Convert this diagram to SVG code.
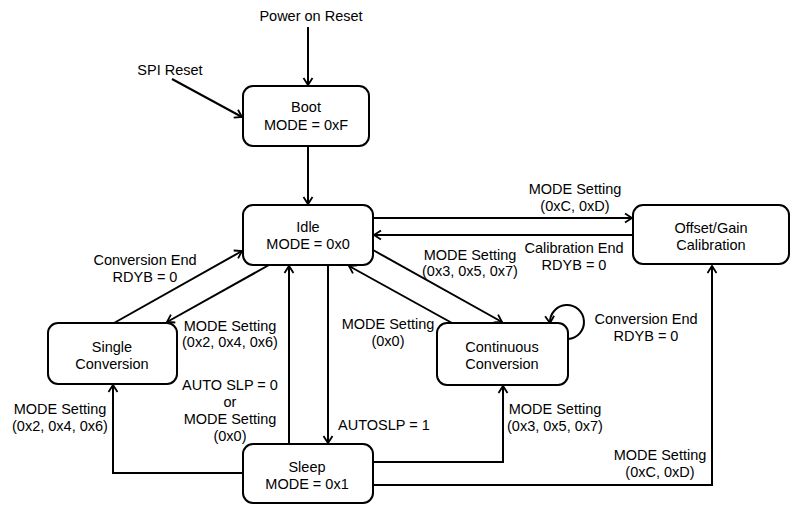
<svg xmlns="http://www.w3.org/2000/svg" width="797" height="505" viewBox="0 0 797 505">
<style>
text{font-family:"Liberation Sans",Arial,sans-serif;font-size:14.5px;fill:#000;text-anchor:middle}
.box{fill:#fff;stroke:#000;stroke-width:2}
.c{fill:none;stroke:#000;stroke-width:2}
</style>
<defs>
<marker id="ah" markerUnits="userSpaceOnUse" markerWidth="14" markerHeight="14" viewBox="-10 -7 12 14" refX="0" refY="0" orient="auto">
<path d="M-7,-4.5 L0,0 L-7,4.5" fill="none" stroke="#000" stroke-width="1.8"/>
</marker>
</defs>
<rect width="797" height="505" fill="#fff"/>
<g id="connectors">
<line class="c" x1="308" y1="27" x2="308" y2="85" marker-end="url(#ah)"/>
<line class="c" x1="172" y1="79" x2="242" y2="117" marker-end="url(#ah)"/>
<line class="c" x1="308" y1="146" x2="308" y2="204" marker-end="url(#ah)"/>
<line class="c" x1="373" y1="218" x2="632" y2="218" marker-end="url(#ah)"/>
<line class="c" x1="633" y1="235" x2="374" y2="235" marker-end="url(#ah)"/>
<line class="c" x1="114" y1="323" x2="242" y2="251" marker-end="url(#ah)"/>
<line class="c" x1="269" y1="265" x2="167" y2="322" marker-end="url(#ah)"/>
<line class="c" x1="289" y1="444" x2="289" y2="266" marker-end="url(#ah)"/>
<line class="c" x1="328" y1="265" x2="328" y2="443" marker-end="url(#ah)"/>
<line class="c" x1="452" y1="323" x2="349" y2="266" marker-end="url(#ah)"/>
<line class="c" x1="373" y1="250" x2="502" y2="322" marker-end="url(#ah)"/>
<path class="c" d="M568,339 A17,17 0 1 0 550,323" marker-end="url(#ah)"/>
<polyline class="c" points="243,473 113,473 113,385" marker-end="url(#ah)"/>
<polyline class="c" points="373,462 503,462 503,386" marker-end="url(#ah)"/>
<polyline class="c" points="373,485 712,485 712,266" marker-end="url(#ah)"/>
</g>
<g id="boot">
<rect class="box" x="243" y="86" width="126" height="60" rx="10"/>
<text x="306" y="112">Boot</text>
<text x="306" y="130">MODE = 0xF</text>
</g>
<g id="idle">
<rect class="box" x="243" y="205" width="130" height="60" rx="10"/>
<text x="308" y="232">Idle</text>
<text x="308" y="249">MODE = 0x0</text>
</g>
<g id="offset">
<rect class="box" x="633" y="205" width="156" height="59" rx="10"/>
<text x="711" y="233">Offset/Gain</text>
<text x="711" y="250">Calibration</text>
</g>
<g id="single">
<rect class="box" x="48" y="323" width="129" height="61" rx="10"/>
<text x="112" y="352">Single</text>
<text x="112" y="369">Conversion</text>
</g>
<g id="continuous">
<rect class="box" x="437" y="323" width="131" height="62" rx="10"/>
<text x="502" y="352">Continuous</text>
<text x="502" y="369">Conversion</text>
</g>
<g id="sleep">
<rect class="box" x="243" y="444" width="130" height="59" rx="10"/>
<text x="307" y="472">Sleep</text>
<text x="307" y="489">MODE = 0x1</text>
</g>
<g id="labels">
<text x="311" y="21">Power on Reset</text>
<text x="170" y="75">SPI Reset</text>
<text x="575" y="194">MODE Setting</text>
<text x="575" y="211">(0xC, 0xD)</text>
<text x="574" y="253">Calibration End</text>
<text x="574" y="270">RDYB = 0</text>
<text x="470" y="260">MODE Setting</text>
<text x="470" y="276">(0x3, 0x5, 0x7)</text>
<text x="145" y="265">Conversion End</text>
<text x="145" y="282">RDYB = 0</text>
<text x="230" y="331">MODE Setting</text>
<text x="230" y="347">(0x2, 0x4, 0x6)</text>
<text x="230" y="390">AUTO SLP = 0</text>
<text x="230" y="407">or</text>
<text x="230" y="424">MODE Setting</text>
<text x="230" y="441">(0x0)</text>
<text x="60" y="414">MODE Setting</text>
<text x="60" y="431">(0x2, 0x4, 0x6)</text>
<text x="388" y="329">MODE Setting</text>
<text x="388" y="346">(0x0)</text>
<text x="338" y="430" style="text-anchor:start">AUTOSLP = 1</text>
<text x="555" y="414">MODE Setting</text>
<text x="555" y="431">(0x3, 0x5, 0x7)</text>
<text x="646" y="324">Conversion End</text>
<text x="646" y="341">RDYB = 0</text>
<text x="660" y="460">MODE Setting</text>
<text x="660" y="477">(0xC, 0xD)</text>
</g>
</svg>
